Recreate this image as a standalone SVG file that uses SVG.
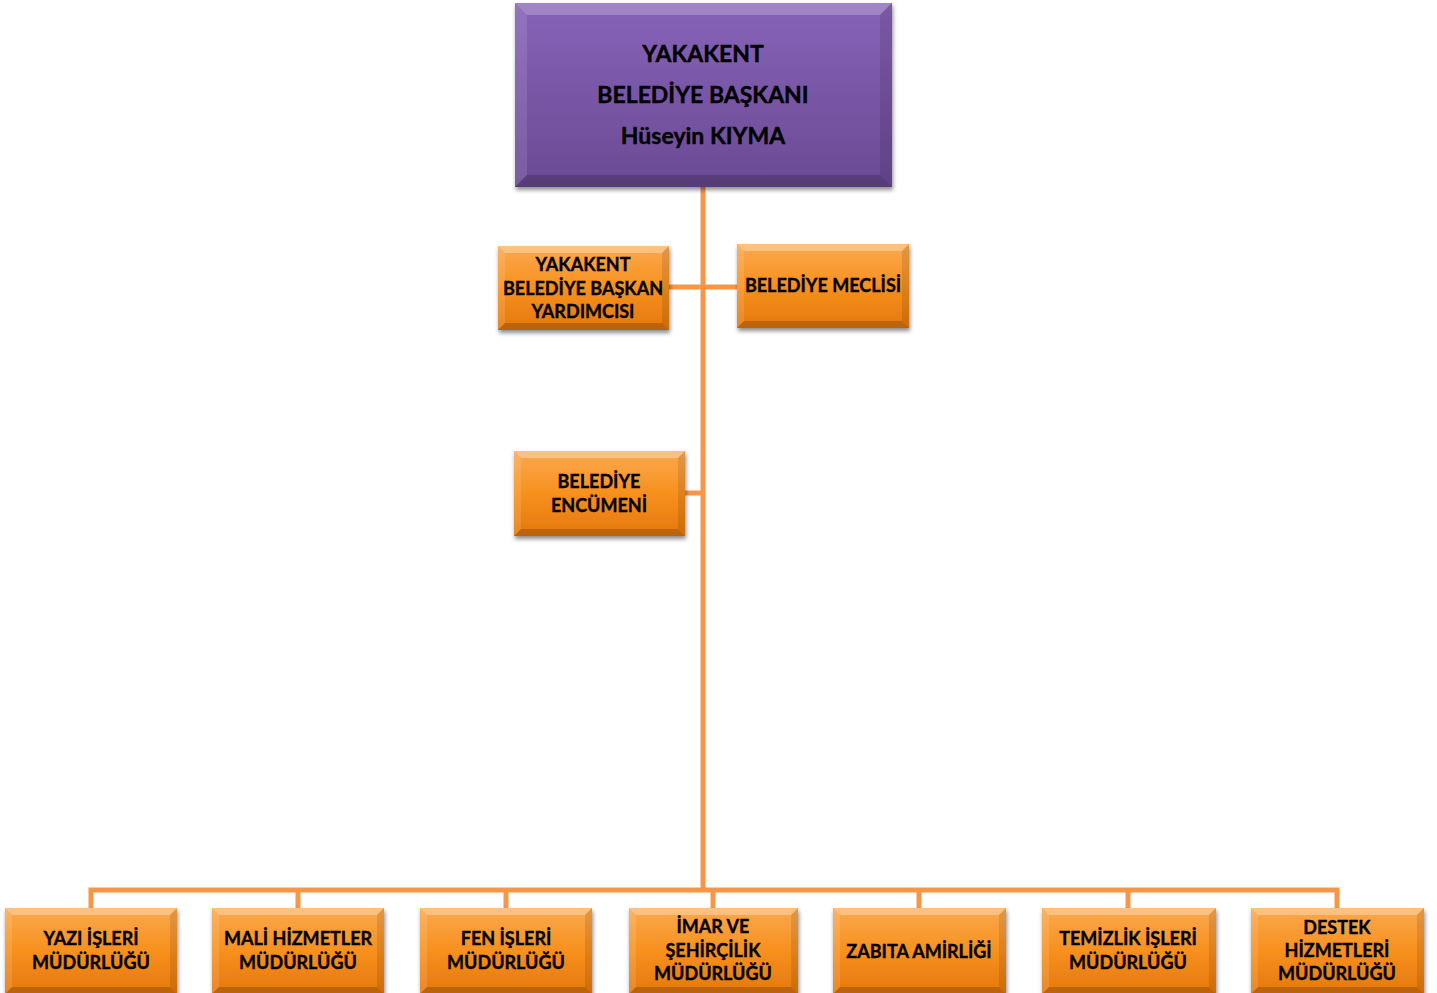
<svg xmlns="http://www.w3.org/2000/svg" xmlns:xlink="http://www.w3.org/1999/xlink" width="1437" height="993" viewBox="0 0 1437 993">
<style>
.t{font-family:Lato,"Open Sans","Liberation Sans",sans-serif;font-weight:bold;font-size:18px;fill:#000;stroke:#000;stroke-width:0.35;text-anchor:middle}
.tt{font-size:23px;stroke-width:0.4}
.c{stroke:#f79646;stroke-width:5;fill:none}
</style>
<defs>
<linearGradient id="og" x1="0" y1="0" x2="0" y2="1">
<stop offset="0" stop-color="#fba94f"/><stop offset="0.5" stop-color="#f7901e"/><stop offset="1" stop-color="#e4780c"/>
</linearGradient>
<linearGradient id="pg" x1="0" y1="0" x2="0" y2="1">
<stop offset="0" stop-color="#8763b8"/><stop offset="1" stop-color="#6a4a94"/>
</linearGradient>
<filter id="sh" x="-10%" y="-10%" width="120%" height="130%">
<feDropShadow dx="1" dy="3" stdDeviation="2" flood-color="#000" flood-opacity="0.45"/>
</filter>
<symbol id="ob" viewBox="0 0 172 85" preserveAspectRatio="none">
<rect x="0" y="0" width="172" height="85" fill="url(#og)"/>
<polygon points="0,0 172,0 165,7 7,7" fill="#fff" opacity="0.3"/>
<polygon points="0,0 7,7 7,78 0,85" fill="#fff" opacity="0.12"/>
<polygon points="0,85 7,78 165,78 172,85" fill="#000" opacity="0.18"/>
<polygon points="172,0 172,85 165,78 165,7" fill="#000" opacity="0.1"/>
</symbol>
<symbol id="pb" viewBox="0 0 377 184" preserveAspectRatio="none">
<rect x="0" y="0" width="377" height="184" fill="url(#pg)"/>
<polygon points="0,0 377,0 365,12 12,12" fill="#fff" opacity="0.22"/>
<polygon points="0,0 12,12 12,172 0,184" fill="#fff" opacity="0.1"/>
<polygon points="0,184 12,172 365,172 377,184" fill="#000" opacity="0.18"/>
<polygon points="377,0 377,184 365,172 365,12" fill="#000" opacity="0.1"/>
</symbol>
</defs>
<rect width="1437" height="993" fill="#fff"/>
<g id="connectors">
<line class="c" x1="703" y1="187" x2="703" y2="892"/>
<line class="c" x1="669" y1="287" x2="737" y2="287"/>
<line class="c" x1="685" y1="493" x2="703" y2="493"/>
<polyline class="c" points="91,908 91,890 1337,890 1337,908"/>
<line class="c" x1="298" y1="890" x2="298" y2="908"/>
<line class="c" x1="506" y1="890" x2="506" y2="908"/>
<line class="c" x1="713" y1="890" x2="713" y2="908"/>
<line class="c" x1="919" y1="890" x2="919" y2="908"/>
<line class="c" x1="1128" y1="890" x2="1128" y2="908"/>
</g>
<g id="baskan">
<use href="#pb" x="515" y="3" width="377" height="184" filter="url(#sh)"/>
<text class="t tt" x="703" y="62">YAKAKENT</text>
<text class="t tt" x="703" y="103">BELEDİYE BAŞKANI</text>
<text class="t tt" x="703" y="144">Hüseyin KIYMA</text>
</g>
<g id="yardimci">
<use href="#ob" x="498" y="246" width="171" height="84" filter="url(#sh)"/>
<text class="t" x="583" y="271">YAKAKENT</text>
<text class="t" x="583" y="295">BELEDİYE BAŞKAN</text>
<text class="t" x="583" y="318">YARDIMCISI</text>
</g>
<g id="meclis">
<use href="#ob" x="737" y="244" width="172" height="84" filter="url(#sh)"/>
<text class="t" x="823" y="292">BELEDİYE MECLİSİ</text>
</g>
<g id="encumen">
<use href="#ob" x="514" y="451" width="171" height="85" filter="url(#sh)"/>
<text class="t" x="599" y="488">BELEDİYE</text>
<text class="t" x="599" y="512">ENCÜMENİ</text>
</g>
<g id="yazi">
<use href="#ob" x="5" y="908" width="172" height="86" filter="url(#sh)"/>
<text class="t" x="91" y="945">YAZI İŞLERİ</text>
<text class="t" x="91" y="969">MÜDÜRLÜĞÜ</text>
</g>
<g id="mali">
<use href="#ob" x="212" y="908" width="172" height="86" filter="url(#sh)"/>
<text class="t" x="298" y="945">MALİ HİZMETLER</text>
<text class="t" x="298" y="969">MÜDÜRLÜĞÜ</text>
</g>
<g id="fen">
<use href="#ob" x="420" y="908" width="172" height="86" filter="url(#sh)"/>
<text class="t" x="506" y="945">FEN İŞLERİ</text>
<text class="t" x="506" y="969">MÜDÜRLÜĞÜ</text>
</g>
<g id="imar">
<use href="#ob" x="629" y="908" width="169" height="86" filter="url(#sh)"/>
<text class="t" x="713" y="933">İMAR VE</text>
<text class="t" x="713" y="957">ŞEHİRÇİLİK</text>
<text class="t" x="713" y="980">MÜDÜRLÜĞÜ</text>
</g>
<g id="zabita">
<use href="#ob" x="833" y="908" width="173" height="86" filter="url(#sh)"/>
<text class="t" x="919" y="958">ZABITA AMİRLİĞİ</text>
</g>
<g id="temizlik">
<use href="#ob" x="1042" y="908" width="174" height="86" filter="url(#sh)"/>
<text class="t" x="1128" y="945">TEMİZLİK İŞLERİ</text>
<text class="t" x="1128" y="969">MÜDÜRLÜĞÜ</text>
</g>
<g id="destek">
<use href="#ob" x="1251" y="908" width="173" height="86" filter="url(#sh)"/>
<text class="t" x="1337" y="934">DESTEK</text>
<text class="t" x="1337" y="957">HİZMETLERİ</text>
<text class="t" x="1337" y="980">MÜDÜRLÜĞÜ</text>
</g>
</svg>
